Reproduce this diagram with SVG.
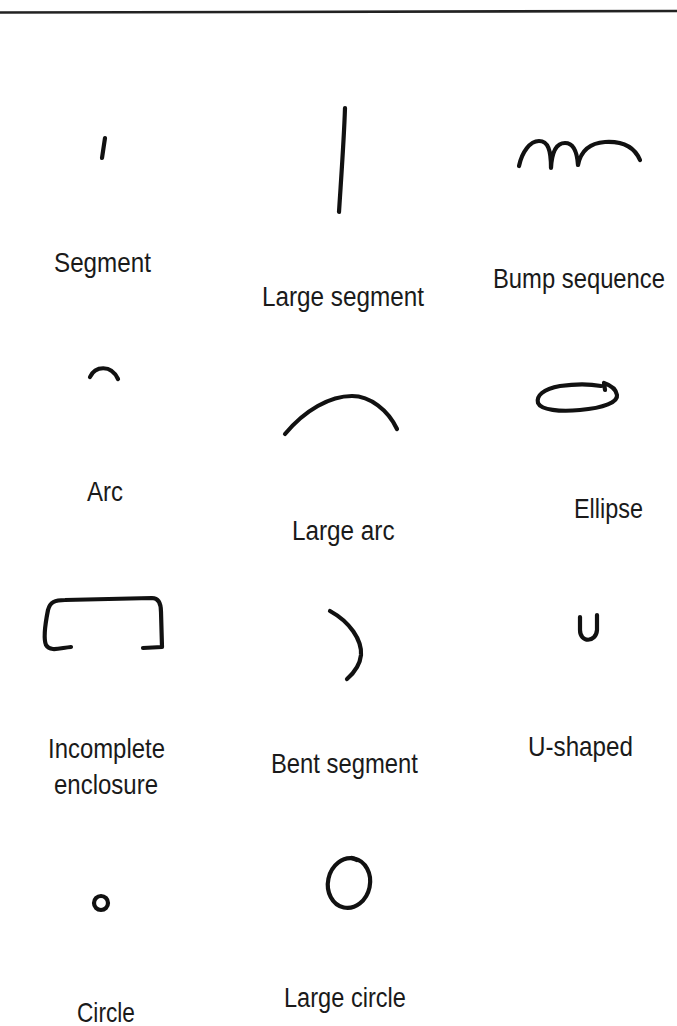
<svg xmlns="http://www.w3.org/2000/svg" width="677" height="1026" viewBox="0 0 677 1026">
<style>
.s{fill:none;stroke:#111;stroke-width:4.2;stroke-linecap:round;stroke-linejoin:round}
.t{font-family:"Liberation Sans",Arial,sans-serif;font-size:27px;fill:#1a1a1a}
</style>
<rect width="677" height="1026" fill="#fff"/>
<line x1="0" y1="12.5" x2="677" y2="11" stroke="#222" stroke-width="2.6"/>
<g id="segment">
<path class="s" d="M105,138 L102,158"/>
<text class="t" transform="translate(54,272) scale(0.897,1)">Segment</text>
</g>
<g id="large-segment">
<path class="s" d="M345,108 C344,140 341,180 339,212"/>
<text class="t" transform="translate(262,306) scale(0.9,1)">Large segment</text>
</g>
<g id="bump-sequence">
<path class="s" d="M519,166 C522,152 530,141 539,141 C548,141 551,150 551,168 C552,150 557,143 565,143 C573,143 577,150 578,165 C581,150 590,143 605,142 C622,141 634,146 640,160"/>
<text class="t" transform="translate(493,288) scale(0.882,1)">Bump sequence</text>
</g>
<g id="arc">
<path class="s" d="M90,377 C95,366 111,364 118,379"/>
<text class="t" transform="translate(87,501) scale(0.889,1)">Arc</text>
</g>
<g id="large-arc">
<path class="s" d="M285,434 C305,410 330,396 352,396 C370,396 388,410 397,429"/>
<text class="t" transform="translate(292,540) scale(0.9,1)">Large arc</text>
</g>
<g id="ellipse">
<path class="s" d="M601,386 C590,384 575,384 560,386 C543,389 536,396 538,403 C541,410 560,412 580,410 C604,408 618,402 617,395 C616,389 610,385 604,383 L605,390"/>
<text class="t" transform="translate(574,518) scale(0.868,1)">Ellipse</text>
</g>
<g id="incomplete-enclosure">
<path class="s" d="M71,647 C60,648 50,652 46,645 C43,638 46,620 48,610 C50,602 55,600 65,600 L152,598 C158,598 161,603 161,612 L162,647 L143,648"/>
<text class="t" transform="translate(48,758) scale(0.886,1)">Incomplete</text>
<text class="t" transform="translate(54,794) scale(0.889,1)">enclosure</text>
</g>
<g id="bent-segment">
<path class="s" d="M330,611 C350,622 362,640 361,655 C360,665 355,672 347,679"/>
<text class="t" transform="translate(271,773) scale(0.882,1)">Bent segment</text>
</g>
<g id="u-shaped">
<path class="s" d="M580,617 L580,630 C580,643 596,643 597,630 L597,615"/>
<text class="t" transform="translate(528,756) scale(0.897,1)">U-shaped</text>
</g>
<g id="circle">
<ellipse class="s" cx="101" cy="903" rx="7" ry="7"/>
<text class="t" transform="translate(77,1022) scale(0.84,1)">Circle</text>
</g>
<g id="large-circle">
<ellipse class="s" cx="349" cy="883" rx="21" ry="25" transform="rotate(12 349 883)"/>
<path class="s" d="M352,858 L357,860"/>
<text class="t" transform="translate(284,1007) scale(0.874,1)">Large circle</text>
</g>
</svg>
